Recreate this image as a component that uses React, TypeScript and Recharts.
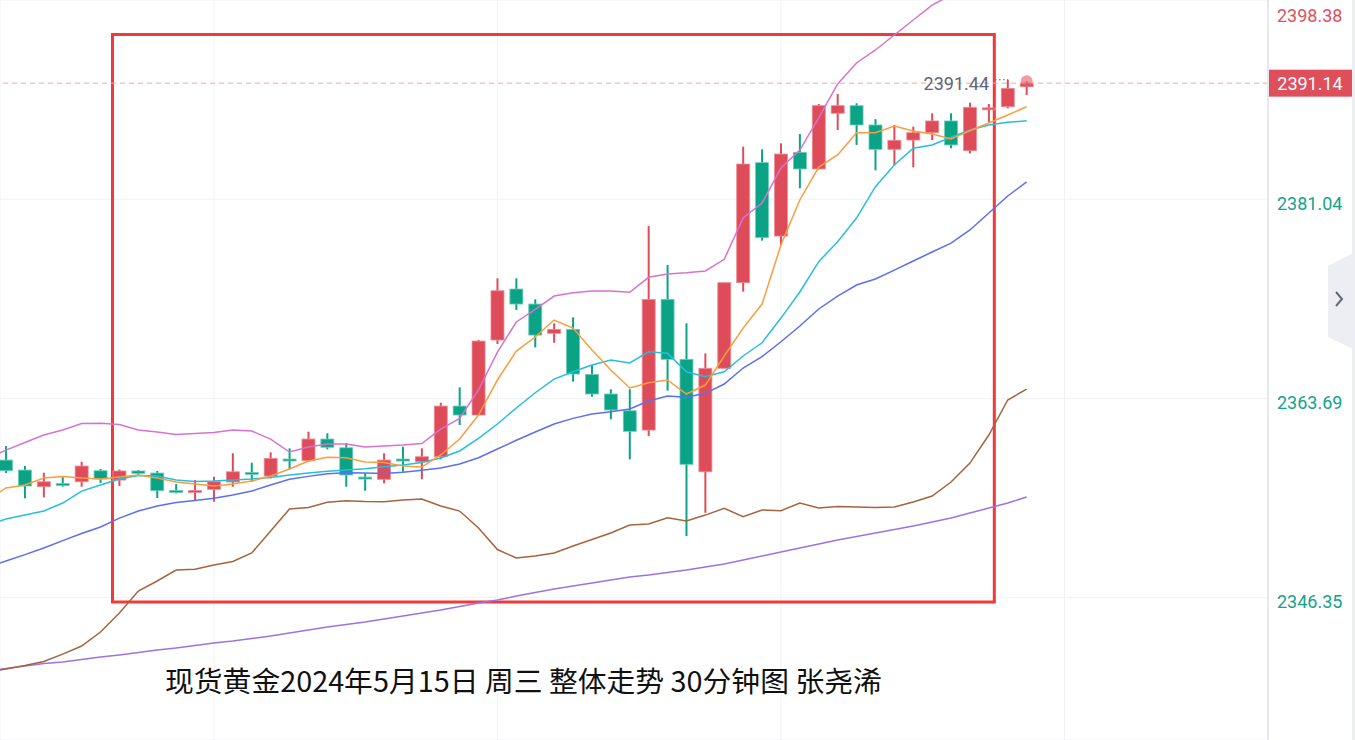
import React from 'react';
import {
  ComposedChart,
  Line,
  Bar,
  XAxis,
  YAxis,
  CartesianGrid,
  ReferenceLine,
  ReferenceArea,
  ReferenceDot,
} from 'recharts';

// ---------- data ----------
const openPrices = [
  2358.33, 2357.46, 2356.01, 2356.29, 2356.44, 2357.40, 2356.59, 2357.38, 2357.20, 2355.69,
  2355.63, 2355.78, 2356.42, 2357.26, 2356.94, 2358.42, 2358.27, 2360.16, 2359.40, 2356.85,
  2356.65, 2358.42, 2358.18, 2358.62, 2363.03, 2362.25, 2368.78, 2373.22, 2371.91, 2369.36,
  2369.71, 2365.79, 2364.08, 2362.62, 2360.94, 2372.32, 2367.10, 2357.31, 2366.32, 2373.77,
  2384.22, 2377.83, 2385.12, 2383.67, 2388.52, 2389.18, 2387.50, 2385.38, 2386.19, 2386.83,
  2387.85, 2385.26, 2388.93, 2389.09, 2390.83,
];
const closePrices = [
  2357.40, 2356.07, 2356.44, 2356.20, 2357.81, 2356.68, 2357.38, 2357.17, 2355.66, 2355.63,
  2355.68, 2356.44, 2357.31, 2357.20, 2358.48, 2358.36, 2360.16, 2359.44, 2357.03, 2356.79,
  2358.33, 2358.36, 2358.62, 2363.03, 2362.25, 2368.69, 2373.07, 2371.91, 2369.21, 2369.71,
  2365.82, 2364.08, 2362.69, 2360.83, 2372.32, 2367.10, 2357.96, 2366.32, 2373.77, 2384.10,
  2377.69, 2384.97, 2383.67, 2389.18, 2389.18, 2387.50, 2385.38, 2386.17, 2386.83, 2387.85,
  2385.76, 2389.04, 2388.99, 2390.69, 2391.14,
];
const highPrices = [
  2359.55, 2357.81, 2357.23, 2356.94, 2358.18, 2357.55, 2357.51, 2357.46, 2357.38, 2356.24,
  2356.59, 2356.88, 2358.92, 2358.10, 2359.00, 2359.35, 2360.80, 2360.66, 2359.79, 2357.17,
  2358.92, 2359.49, 2359.35, 2363.32, 2364.66, 2368.78, 2374.15, 2374.15, 2372.32, 2370.23,
  2370.76, 2366.60, 2364.49, 2364.49, 2378.70, 2375.31, 2370.23, 2367.62, 2373.77, 2385.61,
  2385.38, 2385.90, 2386.71, 2389.33, 2390.20, 2389.39, 2388.01, 2387.50, 2387.35, 2388.52,
  2388.52, 2389.44, 2389.33, 2391.44, 2391.30,
];
const lowPrices = [
  2357.20, 2355.00, 2355.08, 2356.01, 2356.01, 2356.33, 2356.07, 2357.03, 2355.02, 2355.43,
  2354.85, 2354.70, 2356.01, 2356.44, 2356.74, 2357.52, 2358.18, 2359.26, 2356.01, 2355.66,
  2356.30, 2357.31, 2356.65, 2358.39, 2361.38, 2362.21, 2368.43, 2371.39, 2368.14, 2368.54,
  2365.15, 2363.84, 2361.88, 2358.39, 2360.42, 2364.37, 2351.72, 2353.74, 2366.32, 2372.99,
  2377.43, 2377.05, 2381.99, 2383.62, 2387.06, 2385.76, 2383.55, 2384.02, 2383.81, 2386.19,
  2385.47, 2385.03, 2387.76, 2388.95, 2390.11,
];

// indicator lines: first value belongs to the bar just left of the visible window (index -1)
const ma5 = [
  2354.85,
  2355.90, 2356.16, 2356.77, 2356.90, 2356.77, 2356.68, 2356.85, 2357.03, 2356.77, 2356.42,
  2356.24, 2356.07, 2356.24, 2356.50, 2356.94, 2357.55, 2358.25, 2358.57, 2358.53, 2358.16,
  2358.12, 2357.81, 2357.72, 2358.77, 2360.16, 2362.25, 2365.30, 2367.82, 2369.04, 2370.52,
  2369.82, 2367.91, 2366.17, 2364.60, 2365.06, 2365.30, 2364.08, 2364.86, 2367.39, 2369.82,
  2371.91, 2377.05, 2380.97, 2383.84, 2384.89, 2386.83, 2386.83, 2387.41, 2386.98, 2386.71,
  2386.28, 2387.00, 2387.67, 2388.37, 2389.09,
];
const ma10 = [
  2352.67,
  2353.20, 2353.54, 2353.89, 2354.59, 2355.63, 2356.16, 2356.68, 2356.98, 2356.94, 2356.59,
  2356.46, 2356.50, 2356.59, 2356.68, 2356.81, 2357.03, 2357.20, 2357.35, 2357.46, 2357.57,
  2357.75, 2357.90, 2358.12, 2358.51, 2359.12, 2360.22, 2361.47, 2362.86, 2364.19, 2365.38,
  2366.02, 2366.60, 2367.04, 2366.78, 2367.76, 2367.62, 2366.02, 2365.58, 2366.02, 2367.39,
  2368.54, 2370.69, 2372.96, 2375.60, 2377.34, 2379.40, 2382.13, 2384.02, 2385.47, 2385.76,
  2386.43, 2387.06, 2387.50, 2387.73, 2387.87,
];
const bollMid = [
  2349.02,
  2349.54, 2350.10, 2350.67, 2351.32, 2351.93, 2352.50, 2353.28, 2353.89, 2354.33, 2354.63,
  2354.81, 2355.00, 2355.29, 2355.63, 2356.16, 2356.65, 2356.91, 2357.14, 2357.23, 2357.20,
  2357.17, 2357.26, 2357.44, 2357.64, 2357.98, 2358.53, 2359.29, 2360.05, 2360.77, 2361.47,
  2361.96, 2362.34, 2362.54, 2362.77, 2363.47, 2363.90, 2363.79, 2364.14, 2364.95, 2366.34,
  2367.33, 2368.63, 2370.00, 2371.48, 2372.61, 2373.57, 2374.09, 2374.87, 2375.66, 2376.44,
  2377.22, 2378.36, 2379.84, 2381.32, 2382.54,
];
const bollUpper = [
  2358.42,
  2359.20, 2359.86, 2360.51, 2360.94, 2361.51, 2361.53, 2361.42, 2360.94, 2360.77, 2360.55,
  2360.64, 2360.73, 2360.94, 2360.86, 2360.16, 2359.03, 2359.46, 2359.73, 2359.73, 2359.46,
  2359.55, 2359.64, 2359.77, 2361.03, 2361.95, 2364.43, 2367.73, 2370.35, 2371.45, 2372.61,
  2372.90, 2373.05, 2373.05, 2372.93, 2374.24, 2374.53, 2374.64, 2374.79, 2375.81, 2379.40,
  2380.71, 2383.75, 2385.32, 2388.11, 2391.07, 2392.90, 2394.03, 2395.33, 2396.64, 2397.94,
  2398.82, 2399.69, 2400.56, 2401.25, 2401.86,
];
const bollLower = [
  2339.88,
  2340.14, 2340.44, 2340.79, 2341.44, 2342.14, 2343.36, 2345.01, 2346.93, 2347.80, 2348.76,
  2348.82, 2349.19, 2349.50, 2350.24, 2352.15, 2354.07, 2354.21, 2354.65, 2354.78, 2354.72,
  2354.70, 2354.85, 2354.94, 2354.33, 2353.89, 2352.41, 2350.54, 2349.80, 2349.97, 2350.24,
  2350.85, 2351.41, 2351.98, 2352.67, 2352.76, 2353.31, 2353.02, 2353.54, 2354.13, 2353.40,
  2353.98, 2353.92, 2354.59, 2354.15, 2354.28, 2354.24, 2354.20, 2354.24, 2354.68, 2355.20,
  2356.42, 2358.07, 2360.51, 2363.56, 2364.51,
];
const maLong = [
  2339.96,
  2340.18, 2340.40, 2340.62, 2340.75, 2340.96, 2341.18, 2341.36, 2341.57, 2341.79, 2341.97,
  2342.18, 2342.40, 2342.57, 2342.79, 2343.01, 2343.27, 2343.53, 2343.79, 2344.01, 2344.23,
  2344.49, 2344.75, 2345.01, 2345.27, 2345.58, 2345.88, 2346.14, 2346.49, 2346.80, 2347.10,
  2347.36, 2347.62, 2347.89, 2348.15, 2348.32, 2348.54, 2348.76, 2349.02, 2349.28, 2349.63,
  2349.97, 2350.32, 2350.67, 2351.02, 2351.37, 2351.67, 2351.98, 2352.28, 2352.59, 2352.93,
  2353.28, 2353.72, 2354.15, 2354.59, 2355.11,
];

const yTicks = [2346.35, 2363.69, 2381.04, 2398.38];
const lastPrice = 2391.14;
const visibleHigh = 2391.44;
const xGridTicks = [11, 26, 41, 56];
const titleText = '现货黄金2024年5月15日 周三 整体走势 30分钟图 张尧浠';

// ---------- build table ----------
const data = ma5.map((_, k) => {
  const i = k - 1;
  const row: any = {
    i,
    ma5: ma5[k],
    ma10: ma10[k],
    mid: bollMid[k],
    upper: bollUpper[k],
    lower: bollLower[k],
    maLong: maLong[k],
  };
  if (i >= 0) {
    row.open = openPrices[i];
    row.close = closePrices[i];
    row.high = highPrices[i];
    row.low = lowPrices[i];
  }
  return row;
});

const RED = '#dd4c58';
const GREEN = '#0aa386';

const Candle = (props: any) => {
  const { x, y, width, height, payload } = props;
  if (!payload || payload.open == null) return null;
  const { open, close, high, low } = payload;
  const up = close >= open;
  const color = up ? RED : GREEN;
  const edge = up ? '#ec8c94' : '#6fcdb9';
  const top = Math.min(y, y + height);
  const h = Math.abs(height);
  const range = high - low;
  const k = range > 0 ? h / range : 0;
  const cx = x + width / 2;
  const yOf = (v: number) => top + (high - v) * k;
  const bTop = yOf(Math.max(open, close));
  const bBot = yOf(Math.min(open, close));
  const bh = Math.max(bBot - bTop, 2);
  return (
    <g>
      <line x1={cx} x2={cx} y1={top} y2={top + h} stroke={color} strokeWidth={2} />
      <rect x={cx - 6.5} y={bTop} width={13} height={bh} fill={color} stroke={edge} strokeWidth={0.8} />
    </g>
  );
};

const YTick = (props: any) => {
  const { x, y, payload } = props;
  const v = payload.value;
  const color = v > lastPrice ? '#e0505c' : '#12a389';
  const isTop = v === yTicks[yTicks.length - 1];
  return (
    <text
      x={x + 1}
      y={isTop ? y + 15 : y + 4}
      fill={color}
      fontSize={18}
      fontFamily="Roboto, 'Noto Sans', sans-serif"
      textAnchor="start"
      dominantBaseline="central"
    >
      {v.toFixed(2)}
    </text>
  );
};

const PriceTag = (props: any) => {
  const vb = props.viewBox || {};
  const left = (vb.x || 0) + (vb.width || 0);
  const cy = vb.y || 0;
  return (
    <g>
      <rect x={left} y={cy - 13.5} width={84} height={27} fill="#de4f5b" />
      <text
        x={left + 42}
        y={cy + 0.5}
        fill="#ffffff"
        fontSize={18}
        fontFamily="Roboto, 'Noto Sans', sans-serif"
        textAnchor="middle"
        dominantBaseline="central"
      >
        {lastPrice.toFixed(2)}
      </text>
    </g>
  );
};

const HighTag = (props: any) => {
  const vb = props.viewBox || {};
  return (
    <text
      x={(vb.x || 0) - 6}
      y={(vb.y || 0) + 4}
      fill="#606577"
      fontSize={18}
      fontFamily="Roboto, 'Noto Sans', sans-serif"
      textAnchor="end"
      dominantBaseline="central"
    >
      {visibleHigh.toFixed(2)}
    </text>
  );
};

export default function App() {
  return (
    <div
      style={{
        position: 'absolute',
        left: 0,
        top: 0,
        width: 1355,
        height: 740,
        background: '#ffffff',
        overflow: 'hidden',
      }}
    >
      <ComposedChart width={1355} height={740} data={data} margin={{ top: 0, right: 0, bottom: 0, left: 0 }}>
        <CartesianGrid stroke="#f0f1f4" strokeWidth={1} />
        <XAxis
          type="number"
          dataKey="i"
          domain={[-0.3175, 66.77]}
          ticks={xGridTicks}
          allowDataOverflow
          hide
        />
        <YAxis
          orientation="right"
          width={87}
          domain={[2333.96, 2398.38]}
          ticks={yTicks}
          allowDataOverflow
          axisLine={{ stroke: '#e6e8ee', strokeWidth: 2 }}
          tickLine={false}
          tick={<YTick />}
          interval={0}
        />
        <ReferenceLine y={lastPrice} stroke="#f2a4ad" strokeDasharray="5 4" strokeWidth={1} label={<PriceTag />} />
        <Bar
          dataKey={(d: any) => (d.high != null ? [d.low, d.high] : undefined)}
          barSize={13}
          shape={<Candle />}
          isAnimationActive={false}
        />
        <Line dataKey="maLong" stroke="#9a73e8" strokeWidth={1.5} dot={false} activeDot={false} isAnimationActive={false} />
        <Line dataKey="lower" stroke="#a5643c" strokeWidth={1.5} dot={false} activeDot={false} isAnimationActive={false} />
        <Line dataKey="mid" stroke="#5b70f0" strokeWidth={1.5} dot={false} activeDot={false} isAnimationActive={false} />
        <Line dataKey="upper" stroke="#d872cf" strokeWidth={1.5} dot={false} activeDot={false} isAnimationActive={false} />
        <Line dataKey="ma10" stroke="#27bde0" strokeWidth={1.5} dot={false} activeDot={false} isAnimationActive={false} />
        <Line dataKey="ma5" stroke="#fb9d3e" strokeWidth={1.5} dot={false} activeDot={false} isAnimationActive={false} />
        <ReferenceDot x={54} y={2391.3} r={6} fill="#e35b66" fillOpacity={0.6} stroke="none" />
        <ReferenceLine
          segment={[
            { x: 52.33, y: visibleHigh },
            { x: 53.02, y: visibleHigh },
          ]}
          stroke="#7c8192"
          strokeDasharray="1.5 2.5"
          strokeWidth={1.2}
          label={<HighTag />}
          ifOverflow="visible"
        />
        <ReferenceArea
          x1={5.635}
          x2={52.29}
          y1={2345.97}
          y2={2395.38}
          fill="none"
          fillOpacity={0}
          stroke="#f23a3a"
          strokeWidth={3}
          ifOverflow="visible"
        />
      </ComposedChart>

      {/* right border and collapse tab */}
      <div style={{ position: 'absolute', left: 1352, top: 0, width: 3, height: 740, background: '#eceef2' }} />
      <svg style={{ position: 'absolute', left: 0, top: 0 }} width={1355} height={740}>
        <polygon points="1328,266 1355,252 1355,350 1328,337" fill="#eceef3" />
        <polyline points="1336,292 1342,299 1336,306" fill="none" stroke="#626878" strokeWidth={2} />
      </svg>

      <div
        style={{
          position: 'absolute',
          left: 165,
          top: 665,
          fontFamily: "'Noto Sans CJK SC', sans-serif",
          fontSize: 28.8,
          lineHeight: '30px',
          color: '#111111',
          whiteSpace: 'pre',
        }}
      >
        {titleText}
      </div>
    </div>
  );
}
